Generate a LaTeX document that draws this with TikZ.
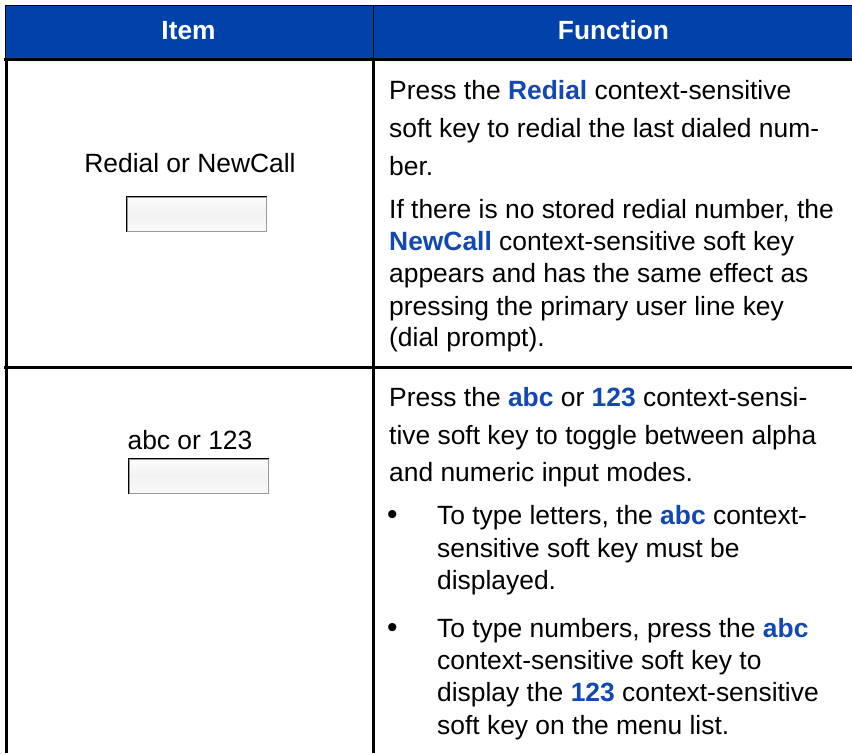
\documentclass[tikz,border=0pt]{standalone}
\usepackage{fontspec}
\setmainfont{Liberation Sans}
\definecolor{headblue}{RGB}{0,65,170}
\definecolor{keyblue}{RGB}{18,72,178}
\newcommand{\kw}[1]{\textbf{\textcolor{keyblue}{#1}}}

\begin{document}
\begin{tikzpicture}[x=1pt,y=-1pt]
      \useasboundingbox (0,0) rectangle (852,753);

      % header band
      \draw[fill=headblue,line width=.8pt] (5.5,5.5) rectangle (854,58);
      \draw[line width=.8pt] (373,5.5) -- (373,58);

      \begin{scope}[every node/.style={anchor=base, inner sep=0, text=white, font=\fontsize{26.3}{31}\selectfont\bfseries}]
        \node (item) at (188.5,39.5) {Item};
        \node (func) at (613.5,39.5) {Function};
      \end{scope}

      % table rules
      \begin{scope}[line width=3pt]
        \draw (4,59.5) -- (852,59.5);
        \draw (4,367.5) -- (852,367.5);
        \draw (6.5,58) -- (6.5,753);
        \draw (373,58) -- (373,753);
      \end{scope}

      % soft keys
      \begin{scope}[every node/.style={draw=black!40, top color=black!1, bottom color=black!2, middle color=black!5, minimum width=139pt, minimum height=34pt, inner sep=0, line width=1pt}]
        \node (k1) at (196.5,214) {};
        \node (k2) at (198.5,476) {};
      \end{scope}
      \draw[line width=1pt] (k1.south west) -- (k1.north west) -- (k1.north east);
      \draw[line width=1pt] (k2.south west) -- (k2.north west) -- (k2.north east);

      \begin{scope}[every node/.style={anchor=base, inner sep=0, font=\fontsize{26.4}{31}\selectfont}]
        \node (i1) at (190,172) {Redial or NewCall};
        \node (i2) at (190,449) {abc or 123};
      \end{scope}

      \begin{scope}[every node/.style={anchor=base west, inner sep=0, font=\fontsize{26.4}{31}\selectfont}]
        % first row
        \node (a1) at (389,99.3)  {Press the \kw{Redial} context-sensitive};
        \node (a2) at (389,137.3) {soft key to redial the last dialed num-};
        \node (a3) at (389,175.3) {ber.};
        \node (b1) at (389,218.3) {If there is no stored redial number, the};
        \node (b2) at (389,250.7) {\kw{NewCall} context-sensitive soft key};
        \node (b3) at (389,282.7) {appears and has the same effect as};
        \node (b4) at (389,315)   {pressing the primary user line key};
        \node (b5) at (389,346.7) {(dial prompt).};

        % second row
        \node (c1) at (389,406.7) {Press the \kw{abc} or \kw{123} context-sensi-};
        \node (c2) at (389,444.3) {tive soft key to toggle between alpha};
        \node (c3) at (389,481.7) {and numeric input modes.};
        \node (d0) at (387,524.5) {\fontsize{30}{31}\selectfont\textbullet};
        \node (d1) at (437,524.5) {To type letters, the \kw{abc} context-};
        \node (d2) at (437,557)   {sensitive soft key must be};
        \node (d3) at (437,589)   {displayed.};
        \node (e0) at (387,637)   {\fontsize{30}{31}\selectfont\textbullet};
        \node (e1) at (437,637)   {To type numbers, press the \kw{abc}};
        \node (e2) at (437,669.5) {context-sensitive soft key to};
        \node (e3) at (437,701.7) {display the \kw{123} context-sensitive};
        \node (e4) at (437,734)   {soft key on the menu list.};
      \end{scope}

    \end{tikzpicture}
\end{document}
